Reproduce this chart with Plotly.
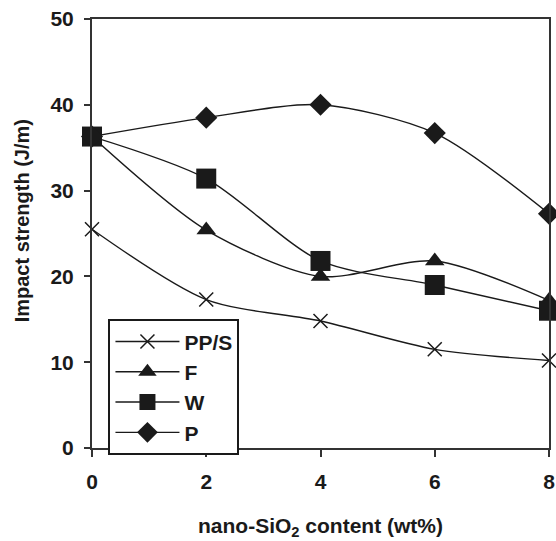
import plotly.graph_objects as go

x_vals = [0, 2, 4, 6, 8]
pps = [25.5, 17.3, 14.8, 11.5, 10.2]
f_vals = [36.3, 25.4, 20.0, 21.8, 17.2]
w_vals = [36.3, 31.4, 21.8, 19.0, 16.0]
p_vals = [36.3, 38.5, 40.0, 36.7, 27.3]
x_ticks = [0, 2, 4, 6, 8]
y_ticks = [0, 10, 20, 30, 40, 50]

FONT = "Liberation Sans, Arial, sans-serif"
INK = "#1a1a1a"

fig = go.Figure()
series = [
    ("PP/S", pps, dict(symbol="x-thin-open", size=14, line=dict(width=1.5, color=INK))),
    ("F", f_vals, dict(symbol="triangle-up", size=17, color=INK)),
    ("W", w_vals, dict(symbol="square", size=20, color=INK)),
    ("P", p_vals, dict(symbol="diamond", size=17, color=INK)),
]
for name, vals, mk in series:
    fig.add_trace(go.Scatter(
        x=x_vals, y=vals, name=name, mode="lines+markers",
        line=dict(color=INK, width=1.4, shape="spline", smoothing=0.8),
        marker=mk, cliponaxis=False,
    ))

fig.update_layout(
    autosize=True,
    margin=dict(l=92, r=1, t=19, b=93),
    plot_bgcolor="white", paper_bgcolor="white",
    font=dict(family=FONT, size=21, color=INK),
    showlegend=True,
    legend=dict(
        x=0.036, y=0.30, xanchor="left", yanchor="top",
        bordercolor=INK, borderwidth=2, bgcolor="white",
        font=dict(family=FONT, size=21, color=INK, weight="bold"),
        tracegroupgap=0, itemwidth=64,
    ),
    xaxis=dict(
        range=[0, 8], tickvals=x_ticks, ticktext=[str(v) for v in x_ticks],
        showline=True, linecolor="#333", linewidth=2, mirror=True,
        ticks="outside", ticklen=7, tickwidth=2, tickcolor="#333",
        showgrid=False, zeroline=False, ticklabelstandoff=7,
        ticklabeloverflow="allow",
        tickfont=dict(family=FONT, size=21, weight="bold", color=INK),
    ),
    yaxis=dict(
        range=[0, 50], tickvals=y_ticks, ticktext=[str(v) for v in y_ticks],
        showline=True, linecolor="#333", linewidth=2, mirror=True,
        ticks="outside", ticklen=6, tickwidth=2, tickcolor="#333",
        showgrid=False, zeroline=False, ticklabelstandoff=6,
        tickfont=dict(family=FONT, size=21, weight="bold", color=INK),
    ),
    annotations=[
        dict(text="nano-SiO<sub>2</sub> content (wt%)", xref="paper", yref="paper",
             x=0.5, y=-0.183, xanchor="center", yanchor="middle", showarrow=False,
             font=dict(family=FONT, size=21, weight="bold", color=INK)),
        dict(text="Impact strength (J/m)", xref="paper", yref="paper",
             x=-0.1525, y=0.529, xanchor="center", yanchor="middle", showarrow=False,
             textangle=-90,
             font=dict(family=FONT, size=20, weight="bold", color=INK)),
    ],
)

fig.write_html(
    "out.html",
    config={"displayModeBar": False, "responsive": True},
    default_width="100vw", default_height="100vh",
    post_script=(
        "document.documentElement.style.margin='0';"
        "document.documentElement.style.overflow='hidden';"
        "document.body.style.margin='0';document.body.style.overflow='hidden';"
        "Plotly.Plots.resize(document.getElementById('{plot_id}'));"
    ),
)
